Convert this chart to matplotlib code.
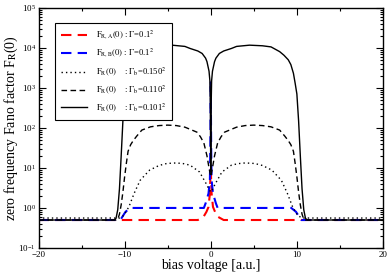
import matplotlib
matplotlib.use("Agg")
import matplotlib.pyplot as plt
from matplotlib.ticker import MultipleLocator, LogLocator, NullFormatter

plt.rcParams['font.family'] = ['Liberation Serif', 'DejaVu Serif']
plt.rcParams['mathtext.fontset'] = 'stix'

# values
x_ra = [-20, -2.4, -1.5, -0.84, -0.5, -0.26, -0.1, 0, 0.1, 0.26, 0.5, 0.84, 1.5, 2.4, 20]
y_ra = [0.5, 0.5, 0.5, 0.6, 0.8, 1.06, 2.3, 10, 2.3, 1.06, 0.8, 0.6, 0.5, 0.5, 0.5]

x_rb = [-20, -10.5, -9.9, -9.35, -0.8, -0.6, -0.26, -0.1, -0.05, 0,
        0.05, 0.1, 0.26, 0.6, 0.8, 9.35, 9.9, 10.5, 20]
y_rb = [0.5, 0.5, 0.8, 1.0, 1.0, 1.3, 2.3, 5, 30, 1500,
        30, 5, 2.3, 1.3, 1.0, 1.0, 0.8, 0.5, 0.5]

x_b150 = [-20, -10.6, -10.1, -9.5, -8.9, -8.2, -7.1, -6.0, -5.1, -4.0, -3.2, -2.4, -1.3, -0.55, -0.16, 0,
          0.16, 0.55, 1.3, 2.4, 3.2, 4.0, 5.1, 6.0, 7.1, 8.2, 8.9, 9.5, 10.1, 10.6, 20]
y_b150 = [0.56, 0.56, 0.65, 1.07, 2.3, 4.9, 8.8, 11.5, 12.9, 13.3, 12.8, 11.7, 7.9, 4.1, 2.8, 2.5,
          2.8, 4.1, 7.9, 11.7, 12.8, 13.3, 12.9, 11.5, 8.8, 4.9, 2.3, 1.07, 0.65, 0.56, 0.56]

x_b110 = [-20, -11.0, -10.8, -10.6, -10.4, -10.2, -10.0, -9.8, -9.6, -9.3, -9.0, -8.6, -8.0, -7.0, -6.0,
          -5.0, -4.0, -3.0, -2.4, -1.6, -1.2, -0.8, -0.44, -0.2, 0,
          0.2, 0.44, 0.8, 1.2, 1.6, 2.4, 3.0, 4.0, 5.0, 6.0, 7.0, 8.0, 8.6, 9.0, 9.3, 9.6, 9.8,
          10.0, 10.2, 10.4, 10.6, 10.8, 11.0, 20]
y_b110 = [0.5, 0.5, 0.52, 0.7, 1.2, 2.5, 6, 13, 26, 38, 48, 62, 88, 106, 114,
          117, 114, 104, 92, 78, 60, 42, 20, 10, 6,
          10, 20, 42, 60, 78, 92, 104, 114, 117, 114, 106, 88, 62, 48, 38, 26, 13,
          6, 2.5, 1.2, 0.7, 0.52, 0.5, 0.5]

x_b101 = [-20, -11.2, -11.0, -10.8, -10.6, -10.4, -10.2, -10.0, -9.8, -9.6, -9.3, -9.0, -8.5, -8.0,
          -7.0, -6.0, -4.5, -3.0, -2.4, -1.5, -1.0, -0.6, -0.44, -0.2, -0.1, -0.05, 0,
          0.05, 0.1, 0.2, 0.44, 0.6, 1.0, 1.5, 2.4, 3.0, 4.5, 6.0, 7.0,
          8.0, 8.5, 9.0, 9.3, 9.6, 9.8, 10.0, 10.2, 10.4, 10.6, 10.8, 11.0, 11.2, 20]
y_b101 = [0.5, 0.5, 0.55, 0.9, 3, 20, 150, 700, 1300, 2300, 3800, 5000, 6500, 8000,
          10500, 11200, 11600, 10800, 9600, 8300, 7200, 5500, 4500, 2600, 1500, 400, 8,
          400, 1500, 2600, 4500, 5500, 7200, 8300, 9600, 10800, 11600, 11200, 10500,
          8000, 6500, 5000, 3800, 2300, 1300, 700, 150, 20, 3, 0.9, 0.55, 0.5, 0.5]

fig = plt.figure(figsize=(3.9, 2.76), dpi=100)
ax = fig.add_axes([38.5 / 390, 1 - 248 / 276, (383 - 38.5) / 390, (248 - 7.7) / 276])

ax.plot(x_ra, y_ra, color='red', lw=1.5, dashes=(5, 3),
        label=r'$\mathrm{F_{R,A}(0)}$ : $\Gamma$=0.1$^2$')
ax.plot(x_rb, y_rb, color='blue', lw=1.5, dashes=(5, 3),
        label=r'$\mathrm{F_{R,B}(0)}$ : $\Gamma$=0.1$^2$')
ax.plot(x_b150, y_b150, color='black', lw=1.0, dashes=(1, 2.2),
        label=r'$\mathrm{F_R(0)}$    : $\Gamma_\mathrm{b}$=0.150$^2$')
ax.plot(x_b110, y_b110, color='black', lw=1.0, dashes=(4, 2.5),
        label=r'$\mathrm{F_R(0)}$    : $\Gamma_\mathrm{b}$=0.110$^2$')
ax.plot(x_b101, y_b101, color='black', lw=1.0,
        label=r'$\mathrm{F_R(0)}$    : $\Gamma_\mathrm{b}$=0.101$^2$')

ax.set_yscale('log')
ax.set_xlim(-20, 20)
ax.set_ylim(1e-1, 1e5)
ax.xaxis.set_major_locator(MultipleLocator(10))
ax.xaxis.set_minor_locator(MultipleLocator(5))
ax.yaxis.set_major_locator(LogLocator(base=10, numticks=10))
ax.yaxis.set_minor_locator(LogLocator(base=10, subs=range(2, 10), numticks=20))
ax.yaxis.set_minor_formatter(NullFormatter())
ax.tick_params(which='both', direction='in', top=True, right=True, labelsize=6.5, width=0.8)
ax.tick_params(axis='x', pad=2)
ax.tick_params(axis='y', pad=2)
ax.tick_params(which='major', length=5)
ax.tick_params(which='minor', length=2.5)
for s in ax.spines.values():
    s.set_linewidth(1.0)

ax.set_xlabel('bias voltage [a.u.]', fontsize=10, labelpad=0)
ax.set_ylabel(r'zero frequency Fano factor F$_\mathrm{R}$(0)', fontsize=10, labelpad=-1)

leg = ax.legend(loc='upper left', bbox_to_anchor=(0.048, 0.936), borderaxespad=0,
                fontsize=6.2, handlelength=3.0, handletextpad=1.0, labelspacing=0.62,
                borderpad=0.7, fancybox=False, framealpha=1, edgecolor='black')
leg.get_frame().set_linewidth(0.8)

fig.savefig('out.png', dpi=100)
